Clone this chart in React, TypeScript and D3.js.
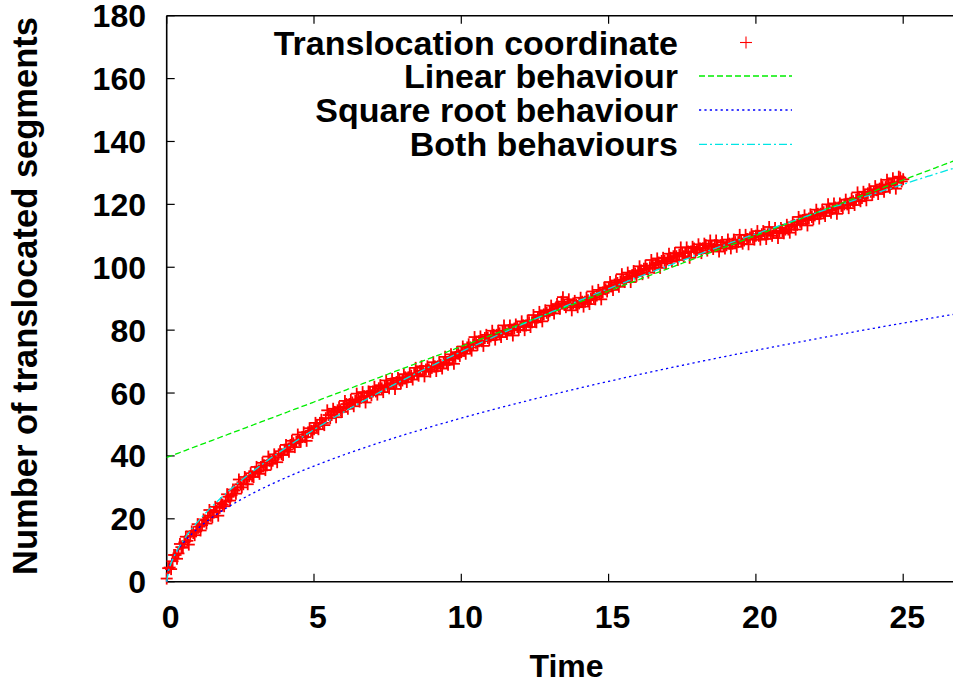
import React from "react";
import * as d3 from "d3";

// ---- data ----
const xTicks = [0, 5, 10, 15, 20, 25];
const yTicks = [0, 20, 40, 60, 80, 100, 120, 140, 160, 180];
const sampleInterval = 0.1; // time between recorded translocation coordinates

// Translocation coordinate, read at t = 0, 0.1, 0.2, ... 25.0
const translocated = [
  1, 4.5, 6.5, 8.5, 9, 11, 12.5, 13, 14.5, 15.5,
  16, 17.5, 18, 19.5, 20.5, 21, 22, 22.5, 23.5, 24.5,
  25.5, 27, 27.5, 29, 30, 31, 31, 32.5, 33.5, 33.5,
  35, 35, 36.5, 37, 37, 38.5, 38.5, 39.5, 40.5, 40.5,
  42, 42, 43.5, 44, 44.5, 45, 46, 46, 47.5, 48,
  48.5, 49.5, 50.5, 50.5, 52, 53, 53, 54, 54.5, 54.5,
  55.5, 56.5, 56.5, 57, 57.5, 58, 58.5, 59, 59, 60,
  60.5, 60.5, 61.5, 61.5, 62, 62, 63, 63, 63.5, 64,
  64, 65, 65, 65.5, 66, 66, 67, 67, 67.5, 67.5,
  68, 68.5, 68.5, 69, 69.5, 69.5, 70.5, 71, 71.5, 72.5,
  73, 73.5, 74.5, 74.5, 75.5, 76, 76.5, 76.5, 77.5, 77.5,
  78, 78.5, 78.5, 79, 79.5, 79.5, 80, 80, 80.5, 81,
  81, 81.5, 81.5, 82.5, 82.5, 83, 84, 84.5, 85, 85.5,
  86, 86.5, 87, 87.5, 89, 88, 88.5, 88, 88.5, 88,
  88.5, 89, 89, 89.5, 90, 90.5, 91, 91.5, 92, 93,
  93.5, 94, 94.5, 95, 95.5, 96, 96.5, 97, 97.5, 98,
  98.5, 99, 99.5, 99.5, 100, 100.5, 101, 101.5, 102, 102,
  102.5, 103, 103.5, 103.5, 104, 104.5, 104.5, 105, 105, 106,
  105.5, 106, 106, 107, 106.5, 106.5, 107, 107, 107, 107,
  107, 107.5, 107.5, 108, 108, 108.5, 108.5, 109, 109.5, 109.5,
  110, 110, 110.5, 110.5, 110.5, 111, 111, 111, 111.5, 111.5,
  112, 112, 113, 113.5, 113.5, 114.5, 115, 115, 115.5, 116,
  116.5, 117, 117, 117.5, 118, 118, 118.5, 119, 119, 119.5,
  120, 120, 120.5, 121, 121.5, 122, 122, 123, 123.5, 124,
  124, 124.5, 125, 125.5, 125.5, 126, 126.5, 127, 127, 128.5,
  128,
];

// Scattered coordinates read in between, at t = 0.05, 0.15, ... 24.95
const translocatedBetween = [
  4.3, 4, 8.5, 7.3, 12, 10.8, 14.3, 11.8, 16, 14.8,
  18.3, 16.3, 19.8, 18.5, 22.8, 20.5, 23.8, 21, 25, 24,
  27.8, 25.8, 29.3, 28, 32.5, 30, 33.3, 31, 34.5, 33.3,
  36.5, 34.3, 37.8, 35.5, 39.8, 37.5, 40.5, 38, 41.5, 40.3,
  43.5, 41.3, 44.8, 42.8, 46.8, 44.5, 47.5, 44.8, 48.8, 47.3,
  50.5, 48.5, 51.5, 49.8, 54.5, 52, 55, 52.3, 55.5, 54,
  57.5, 55, 57.8, 55.8, 59.8, 57.3, 60.3, 57, 60.5, 59.3,
  62, 59.5, 62.5, 60.3, 64, 61.5, 64.5, 61.3, 64.8, 63,
  66, 63.5, 66.3, 64.3, 68, 65.5, 68.5, 65.3, 68.5, 66.8,
  69.8, 67, 69.8, 67.8, 71.5, 69, 72.3, 69.3, 73, 71.8,
  74.8, 72.5, 75.5, 73.5, 77.8, 75.3, 78, 75, 78.5, 76.8,
  79.8, 77, 79.8, 77.8, 81.5, 78.8, 81.5, 78.3, 81.8, 80,
  82.8, 80, 83, 81, 84.8, 82.5, 85.8, 82.8, 86.3, 84.8,
  87.8, 85.3, 88.3, 86.8, 90.5, 87.3, 89.8, 86.3, 89.3, 87.3,
  90.3, 87.5, 90.3, 88.3, 92.3, 89.8, 92.8, 89.8, 93.5, 92.3,
  95.3, 92.8, 95.8, 93.8, 97.8, 95.3, 98.3, 95.3, 98.8, 97.3,
  100.3, 97.8, 100.5, 98.3, 102.3, 99.8, 102.8, 99.8, 103, 101.3,
  104.3, 101.8, 104.5, 102.3, 106.3, 103.5, 106.3, 103, 106.5, 104.8,
  107.3, 104.5, 107.5, 105.3, 108.5, 105.8, 108.5, 105, 108, 106,
  108.8, 106, 108.8, 106.5, 110.3, 107.5, 110.3, 107.3, 110.5, 108.8,
  111.5, 108.8, 111.5, 109, 112.8, 110, 112.5, 109.3, 112.5, 110.8,
  113.5, 111, 114.3, 112, 116, 113.8, 116.5, 113.3, 116.8, 115.3,
  118.3, 115.5, 118.3, 116.3, 120, 117.3, 120.3, 117, 120.3, 118.8,
  121.5, 118.8, 121.8, 119.8, 123.8, 121, 124, 121.3, 124.8, 123,
  125.8, 123.3, 126.3, 124, 127.8, 125.3, 128.3, 125, 128.8, 127.3,
];

// fitted parameters
const linearIntercept = 39.5;
const linearSlope = 3.53;
const sqrtCoeff = 16.45;
const bothCoeff = 18.5;
const bothExponent = 0.597;

const legendLabels = [
  "Translocation coordinate",
  "Linear behaviour",
  "Square root behaviour",
  "Both behaviours",
];

// ---- layout ----
const W = 953;
const H = 686;
const x = d3.scaleLinear().domain([0, 30]).range([166.7, 166.7 + 30 * 29.46]);
const y = d3.scaleLinear().domain([0, 180]).range([581.7, 15.7]);

const FONT = "'Liberation Sans', Arial, Helvetica, sans-serif";
const RED = "#ff0000";
const GREEN = "#00ee00";
const BLUE = "#0000ff";
const CYAN = "#00e5e5";

const fitTimes = d3.range(0, 27.01, 0.05);

function fitPath(f: (t: number) => number) {
  return d3
    .line<number>()
    .x((t) => x(t))
    .y((t) => y(f(t)))(fitTimes) as string;
}

const fits = [
  { key: "lin", f: (t: number) => linearIntercept + linearSlope * t, color: GREEN, dash: "6,3" },
  { key: "sqrt", f: (t: number) => sqrtCoeff * Math.sqrt(t), color: BLUE, dash: "2.2,3.2" },
  { key: "both", f: (t: number) => bothCoeff * Math.pow(t, bothExponent), color: CYAN, dash: "8,3,2,3" },
];

export default function App() {
  const pts = [
    ...translocated.map((v, i) => ({ t: i * sampleInterval, v })),
    ...translocatedBetween.map((v, i) => ({ t: (i + 0.5) * sampleInterval, v })),
  ];
  const cs = 6;
  const legendRows = [42.5, 76, 110, 144.3];
  return (
    <svg
      width={W}
      height={H}
      style={{ position: "absolute", left: 0, top: 0, background: "#fff" }}
      fontFamily={FONT}
      fontWeight="bold"
    >
      <rect x={0} y={0} width={W} height={H} fill="#fff" />
      {/* frame */}
      <g stroke="#000" strokeWidth={1.6} fill="none">
        <line x1={x(0)} y1={y(0)} x2={W + 5} y2={y(0)} />
        <line x1={x(0)} y1={y(180)} x2={W + 5} y2={y(180)} />
        <line x1={x(0)} y1={y(0)} x2={x(0)} y2={y(180)} />
      </g>
      {/* ticks */}
      <g stroke="#000" strokeWidth={1.2}>
        {yTicks.map((v) => (
          <line key={"yt" + v} x1={x(0)} x2={x(0) + 8} y1={y(v)} y2={y(v)} />
        ))}
        {xTicks.map((t) => (
          <g key={"xt" + t}>
            <line x1={x(t)} x2={x(t)} y1={y(0)} y2={y(0) - 8} />
            <line x1={x(t)} x2={x(t)} y1={y(180)} y2={y(180) + 8} />
          </g>
        ))}
      </g>
      {/* tick labels */}
      <g fontSize={32} fill="#000">
        {yTicks.map((v) => (
          <text key={"yl" + v} x={146} y={y(v) + 11.5} textAnchor="end">
            {v}
          </text>
        ))}
        {xTicks.map((t) => (
          <text key={"xl" + t} x={x(t) + 4} y={628} textAnchor="middle">
            {t}
          </text>
        ))}
        <text x={566.5} y={677} textAnchor="middle">
          Time
        </text>
        <text transform="translate(37,296) rotate(-90)" textAnchor="middle" fontSize={34.5}>
          Number of translocated segments
        </text>
      </g>
      {/* data points */}
      <g stroke={RED} strokeWidth={1.8}>
        {pts.map((p, i) => (
          <g key={"p" + i}>
            <line x1={x(p.t) - cs} x2={x(p.t) + cs} y1={y(p.v)} y2={y(p.v)} />
            <line x1={x(p.t)} x2={x(p.t)} y1={y(p.v) - cs} y2={y(p.v) + cs} />
          </g>
        ))}
      </g>
      {/* fit curves */}
      {fits.map((f) => (
        <path
          key={f.key}
          d={fitPath(f.f)}
          fill="none"
          stroke={f.color}
          strokeWidth={1.3}
          strokeDasharray={f.dash}
        />
      ))}
      {/* legend */}
      <g fontSize={34} fill="#000">
        {legendLabels.map((l, i) => (
          <text key={l} x={678} y={legendRows[i] + 12} textAnchor="end">
            {l}
          </text>
        ))}
      </g>
      <g stroke={RED} strokeWidth={1.1}>
        <line x1={746 - cs} x2={746 + cs} y1={legendRows[0]} y2={legendRows[0]} />
        <line x1={746} x2={746} y1={legendRows[0] - cs} y2={legendRows[0] + cs} />
      </g>
      {fits.map((f, i) => (
        <line
          key={"lg" + f.key}
          x1={699}
          x2={792}
          y1={legendRows[i + 1]}
          y2={legendRows[i + 1]}
          stroke={f.color}
          strokeWidth={1.3}
          strokeDasharray={f.dash}
        />
      ))}
    </svg>
  );
}
